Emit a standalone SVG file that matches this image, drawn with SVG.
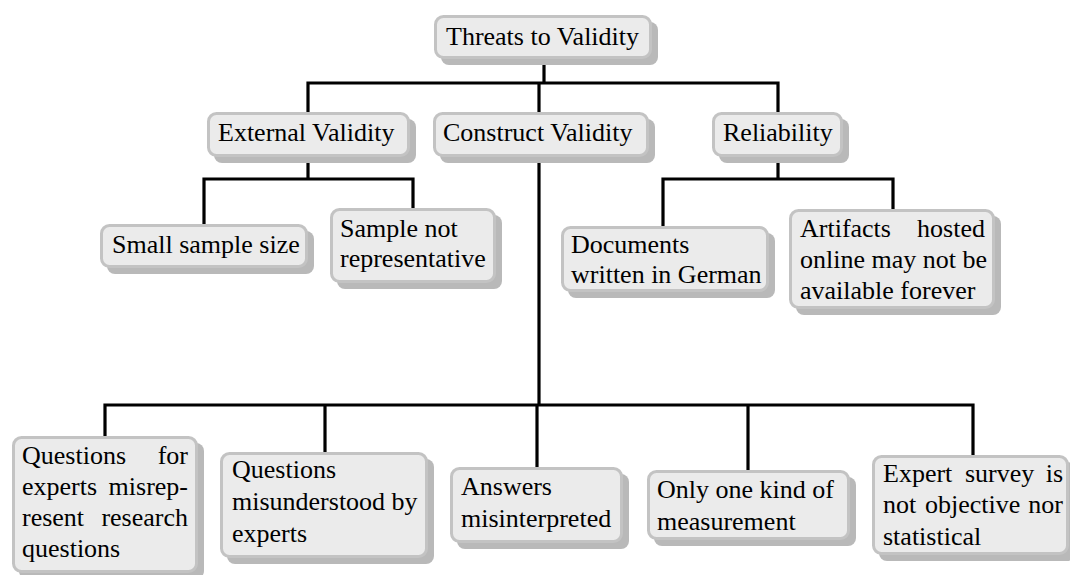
<svg xmlns="http://www.w3.org/2000/svg" width="1070" height="575" viewBox="0 0 1070 575">
<style>
.sh{fill:#b9b9b9;}
.bx{fill:#ebebeb;stroke:#c3c3c3;stroke-width:3;}
.t{font-family:'Liberation Serif','Times New Roman',Times,serif;font-size:26px;fill:#000;}
.e{text-anchor:end;}
.c{fill:none;stroke:#000;stroke-width:3.2;stroke-linejoin:miter;stroke-linecap:butt;}
</style>
<rect width="1070" height="575" fill="#fff"/>
<g id="connectors">
<path class="c" d="M544 59 V83"/>
<path class="c" d="M308 112 V83 H778 V112"/>
<path class="c" d="M539 83 V112"/>
<path class="c" d="M308 157 V179"/>
<path class="c" d="M204 224 V179 H413 V208"/>
<path class="c" d="M778 157 V179"/>
<path class="c" d="M663 226 V179 H893 V209"/>
<path class="c" d="M539 157 V405"/>
<path class="c" d="M105 436 V405 H973 V455"/>
<path class="c" d="M325 405 V452"/>
<path class="c" d="M537 405 V467"/>
<path class="c" d="M748 405 V470"/>
</g>
<g id="root">
<rect class="sh" x="441" y="22" width="217" height="43" rx="8"/>
<rect class="bx" x="435.5" y="16.5" width="215" height="41" rx="8"/>
<text class="t" x="446" y="45">Threats to Validity</text>
</g>
<g id="external">
<rect class="sh" x="214" y="119" width="202" height="44" rx="8"/>
<rect class="bx" x="208.5" y="113.5" width="200" height="42" rx="8"/>
<text class="t" x="218" y="141">External Validity</text>
</g>
<g id="construct">
<rect class="sh" x="440" y="119" width="215" height="44" rx="8"/>
<rect class="bx" x="434.5" y="113.5" width="213" height="42" rx="8"/>
<text class="t" x="443" y="141">Construct Validity</text>
</g>
<g id="reliability">
<rect class="sh" x="719" y="119" width="130" height="44" rx="8"/>
<rect class="bx" x="713.5" y="113.5" width="128" height="42" rx="8"/>
<text class="t" x="723" y="141">Reliability</text>
</g>
<g id="small-sample">
<rect class="sh" x="107" y="231" width="207" height="43" rx="8"/>
<rect class="bx" x="101.5" y="225.5" width="205" height="41" rx="8"/>
<text class="t" x="112" y="253">Small sample size</text>
</g>
<g id="sample-not-representative">
<rect class="sh" x="337" y="215" width="165" height="74" rx="8"/>
<rect class="bx" x="331.5" y="209.5" width="163" height="72" rx="8"/>
<text class="t" x="340" y="237">Sample not</text>
<text class="t" x="340" y="267">representative</text>
</g>
<g id="documents">
<rect class="sh" x="568" y="233" width="207" height="65" rx="8"/>
<rect class="bx" x="562.5" y="227.5" width="205" height="63" rx="8"/>
<text class="t" x="571" y="253">Documents</text>
<text class="t" x="571" y="283">written in German</text>
</g>
<g id="artifacts">
<rect class="sh" x="796" y="216" width="205" height="99" rx="8"/>
<rect class="bx" x="790.5" y="210.5" width="203" height="97" rx="8"/>
<text class="t" x="800" y="237">Artifacts</text>
<text class="t e" x="985" y="237">hosted</text>
<text class="t" x="800" y="268">online may not be</text>
<text class="t" x="800" y="299">available forever</text>
</g>
<g id="questions-misrepresent">
<rect class="sh" x="19" y="443" width="185" height="136" rx="8"/>
<rect class="bx" x="13.5" y="437.5" width="183" height="134" rx="8"/>
<text class="t" x="22" y="464">Questions</text>
<text class="t e" x="188" y="464">for</text>
<text class="t" x="22" y="495">experts</text>
<text class="t e" x="188" y="495">misrep-</text>
<text class="t" x="22" y="526">resent</text>
<text class="t e" x="188" y="526">research</text>
<text class="t" x="22" y="557">questions</text>
</g>
<g id="questions-misunderstood">
<rect class="sh" x="227" y="459" width="207" height="105" rx="8"/>
<rect class="bx" x="221.5" y="453.5" width="205" height="103" rx="8"/>
<text class="t" x="232" y="478">Questions</text>
<text class="t" x="232" y="510">misunderstood by</text>
<text class="t" x="232" y="542">experts</text>
</g>
<g id="answers">
<rect class="sh" x="457" y="474" width="172" height="75" rx="8"/>
<rect class="bx" x="451.5" y="468.5" width="170" height="73" rx="8"/>
<text class="t" x="461" y="495">Answers</text>
<text class="t" x="461" y="527">misinterpreted</text>
</g>
<g id="one-measurement">
<rect class="sh" x="654" y="477" width="202" height="69" rx="8"/>
<rect class="bx" x="648.5" y="471.5" width="200" height="67" rx="8"/>
<text class="t" x="657" y="498">Only one kind of</text>
<text class="t" x="657" y="530">measurement</text>
</g>
<g id="expert-survey">
<rect class="sh" x="879" y="462" width="196" height="99" rx="8"/>
<rect class="bx" x="873.5" y="456.5" width="194" height="97" rx="8"/>
<text class="t" x="883" y="482">Expert</text>
<text class="t" x="965" y="482">survey</text>
<text class="t e" x="1063" y="482">is</text>
<text class="t" x="883" y="513">not</text>
<text class="t" x="925" y="513">objective</text>
<text class="t e" x="1063" y="513">nor</text>
<text class="t" x="883" y="545">statistical</text>
</g>
</svg>
